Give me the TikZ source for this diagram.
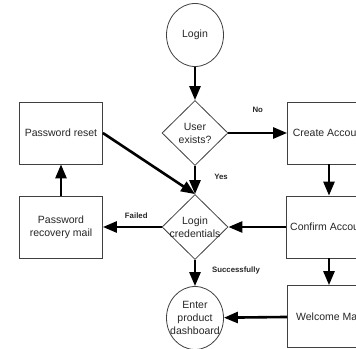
\documentclass[tikz,border=0pt]{standalone}
\usepackage{fontspec}
\setmainfont{Liberation Sans}
\usepackage{tikz}
\usetikzlibrary{shapes.geometric, arrows.meta}
\tikzstyle{proc} = [rectangle, minimum width=83pt, minimum height=62pt, align=center, draw=black!75, line width=0.8pt, fill=white, text=black!85, font=\fontsize{10.5}{13}\selectfont]
\tikzstyle{term} = [ellipse, inner sep=-8pt, minimum width=57pt, minimum height=63pt, align=center, draw=black!75, line width=0.8pt, fill=white, text=black!85, font=\fontsize{10.5}{13}\selectfont]
\tikzstyle{dec} = [diamond, aspect=1, inner sep=-8pt, minimum width=66pt, minimum height=65pt, align=center, draw=black!75, line width=0.8pt, fill=white, text=black!85, font=\fontsize{10.5}{13}\selectfont]
\tikzstyle{lbl} = [font=\fontsize{7.8}{9}\selectfont\bfseries, text=black!85]
\tikzstyle{arrow} = [line width=2.6pt, -{Triangle[length=14pt, width=11pt]}]

\begin{document}
\begin{tikzpicture}[node distance=94pt]
\useasboundingbox (0,0) rectangle (356pt,-348pt);
\clip (0,0) rectangle (356pt,-348pt);

\node (login) [term] at (195pt,-35pt) {Login};
\node (exists) [dec, below of=login, yshift=-4pt] {User\\exists?};
\node (cred) [dec, below of=exists] {Login\\credentials};
\node (dash) [term, below of=cred, yshift=3pt] {Enter\\product\\dashboard};

\node (create) [proc, right of=exists, xshift=40pt] {Create Account};
\node (confirm) [proc, right of=cred, xshift=40pt] {Confirm Account};
\node (welcome) [proc, right of=dash, xshift=40pt, yshift=1.5pt] {Welcome Mail};

\node (reset) [proc, left of=exists, xshift=-40pt] {Password reset};
\node (mail) [proc, left of=cred, xshift=-40pt] {Password\\recovery mail};

\draw [arrow] (login) -- (exists);
\draw [arrow] (exists) -- node[lbl, yshift=23pt] {No} (create);
\draw [arrow] (exists) -- node[lbl, xshift=26pt, yshift=3pt] {Yes} (cred.north);
\draw [arrow] (reset.east) -- (cred.north);
\draw [arrow] (create) -- (confirm);
\draw [arrow] (confirm) -- (cred);
\draw [arrow] (confirm) -- (welcome);
\draw [arrow] (cred) -- node[lbl, xshift=4pt, yshift=11pt] {Failed} (mail);
\draw [arrow] (mail) -- (reset);
\draw [arrow] (cred) -- node[lbl, xshift=41pt, yshift=3pt] {Successfully} (dash);
\draw [arrow] (welcome) -- (dash);

\end{tikzpicture}
\end{document}
